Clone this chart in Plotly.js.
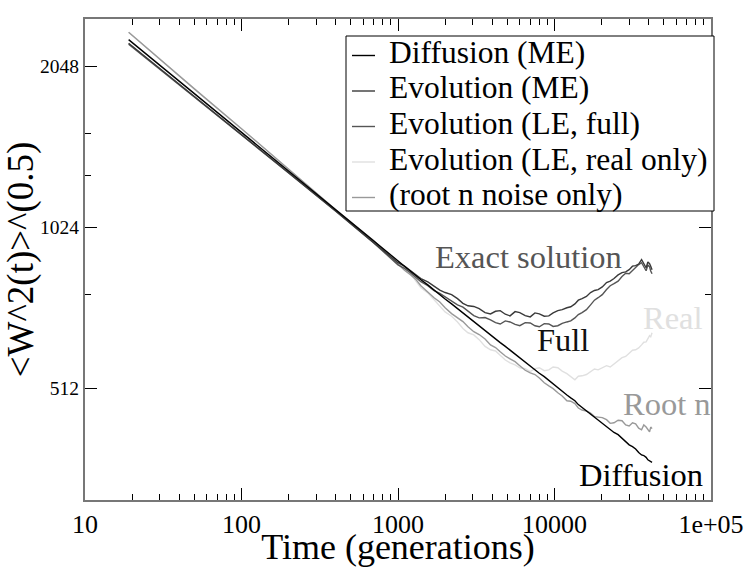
<!DOCTYPE html>
<html>
<head>
<meta charset="utf-8">
<script src="https://cdn.plot.ly/plotly-3.0.1.min.js"></script>
<style>html,body{margin:0;padding:0;background:#fff;}#chart{width:747px;height:567px;}</style>
</head>
<body>
<div id="chart"></div>
<script>
// Time (generations)
const t = [19, 30, 50, 100, 200, 400, 700,
  1000, 1100, 1200, 1300, 1400, 1550, 1700, 1850, 2000, 2200,
  2400, 2600, 2800, 3050, 3300, 3600, 3900, 4200, 4500, 4850,
  5200, 5600, 6000, 6500, 7000, 7500, 8000, 8600, 9200, 9800,
  10500, 11200, 12000, 12700, 13500, 14200, 15000, 16000, 17000, 18000,
  19000, 20200, 21500, 22700, 24000, 25500, 27000, 28500, 30000, 31500,
  33000, 34500, 36000, 37200, 38500, 39500, 40500, 41200, 42000];
// <W^2(t)>^(0.5) for each series
const diffusionME = [2298, 2058, 1819, 1539, 1302, 1101, 962,
  883, 864, 846, 831, 817, 799, 781, 766, 752, 736,
  721, 708, 696, 683, 670, 657, 645, 634, 623, 613,
  603, 593, 583, 573, 563, 555, 546, 538, 529, 521,
  512, 505, 497, 491, 485, 477, 471, 465, 458, 453,
  447, 440, 434, 429, 423, 419, 413, 406, 401, 398,
  394, 388, 384, 383, 380, 376, 374, 374, 372];
const evolutionME = [2263, 2031, 1799, 1526, 1297, 1099, 958,
  879, 866, 849, 832, 821, 809, 793, 781, 773, 766,
  753, 738, 730, 728, 721, 709, 705, 713, 715, 704,
  699, 712, 709, 700, 696, 708, 705, 698, 699, 708,
  715, 718, 724, 727, 736, 748, 753, 760, 773, 780,
  783, 792, 807, 812, 821, 834, 842, 845, 853, 866,
  868, 874, 891, 878, 860, 882, 875, 866, 853];
const evolutionLEfull = [2254, 2025, 1795, 1522, 1294, 1097, 957,
  871, 858, 842, 824, 810, 796, 779, 770, 759, 744,
  733, 726, 715, 700, 693, 694, 687, 679, 675, 684,
  681, 674, 670, 679, 678, 670, 667, 676, 675, 668,
  670, 677, 681, 684, 693, 703, 709, 718, 733, 748,
  756, 766, 783, 796, 803, 812, 828, 840, 838, 850,
  860, 872, 879, 866, 849, 870, 864, 848, 838];
const evolutionLEreal = [2373, 2111, 1859, 1566, 1313, 1104, 966,
  879, 862, 842, 812, 789, 772, 750, 728, 711, 698,
  681, 662, 650, 644, 631, 613, 604, 601, 591, 578,
  571, 566, 559, 557, 550, 557, 559, 552, 554, 561,
  559, 551, 545, 538, 531, 539, 540, 543, 550, 556,
  554, 558, 564, 561, 569, 578, 584, 587, 594, 603,
  604, 609, 617, 624, 625, 632, 642, 639, 650];
const rootNoise = [2373, 2111, 1859, 1566, 1313, 1104, 966,
  871, 851, 835, 818, 796, 773, 756, 742, 724, 706,
  693, 682, 667, 653, 645, 633, 617, 610, 599, 588,
  581, 574, 564, 553, 547, 543, 535, 524, 517, 511,
  502, 495, 485, 484, 479, 470, 466, 464, 460, 453,
  452, 451, 447, 440, 441, 446, 445, 437, 435, 441,
  439, 431, 428, 437, 433, 427, 424, 433, 430];

const seriesNames = ["Diffusion (ME)", "Evolution (ME)", "Evolution (LE, full)", "Evolution (LE, real only)", "(root n noise only)"];
const xTickVals = [10, 100, 1000, 10000, 100000];
const xTickText = ["10", "100", "1000", "10000", "1e+05"];
const xMinorVals = [20,30,40,50,60,70,80,90,200,300,400,500,600,700,800,900,2000,3000,4000,5000,6000,7000,8000,9000,20000,30000,40000,50000,60000,70000,80000,90000];
const yTickVals = [512, 1024, 2048];
const yTickText = ["512", "1024", "2048"];
const yMinorVals = [768, 1280, 1536];
const curveLabels = ["Exact solution", "Full", "Real", "Root n", "Diffusion"];

const FONT = "Liberation Serif, Times New Roman, serif";
const colors = ["#000000", "#3a3a3a", "#555555", "#e0e0e0", "#999999"];
const allSeries = [diffusionME, evolutionME, evolutionLEfull, evolutionLEreal, rootNoise];

// Draw order: light ones first, diffusion last (on top)
const order = [3, 4, 2, 1, 0];
const traces = order.map(i => ({
  x: t, y: allSeries[i], type: "scatter", mode: "lines", name: seriesNames[i],
  line: {color: colors[i], width: 1.4}, showlegend: false, hoverinfo: "skip"
}));

// pixel -> paper helpers (plot area 85..711 x 19..500)
const L = 85, R = 711, T = 19, B = 500;
const px = x => (x - L) / (R - L);
const py = y => (B - y) / (B - T);

const annotations = [];
const shapes = [];
// curve labels
const lab = [
  {i: 0, x: 528, y: 256.5, c: "#555555"},
  {i: 1, x: 562.5, y: 340, c: "#111111"},
  {i: 2, x: 673, y: 317.5, c: "#e0e0e0"},
  {i: 3, x: 666.7, y: 404, c: "#999999"},
  {i: 4, x: 641, y: 475, c: "#000000"}
];
lab.forEach(o => annotations.push({
  xref: "paper", yref: "paper", x: px(o.x), y: py(o.y), xanchor: "center", yanchor: "middle",
  text: curveLabels[o.i], showarrow: false, font: {family: FONT, size: 32.5, color: o.c}
}));
// legend box
shapes.push({type: "rect", xref: "paper", yref: "paper", x0: px(346), x1: px(714), y0: py(36), y1: py(211),
  line: {color: "#000", width: 1}, fillcolor: "#fff", layer: "above"});
const rowY = [52.5, 88, 123.5, 159, 194.5];
seriesNames.forEach((n, i) => {
  shapes.push({type: "line", xref: "paper", yref: "paper", x0: px(352), x1: px(375), y0: py(rowY[i] + 3), y1: py(rowY[i] + 3),
    line: {color: colors[i], width: 1.4}, layer: "above"});
  annotations.push({xref: "paper", yref: "paper", x: px(387), y: py(rowY[i]), xanchor: "left", yanchor: "middle",
    text: n, showarrow: false, font: {family: FONT, size: 31.5, color: "#000"}});
});

const axisCommon = {
  type: "log", showgrid: false, zeroline: false, showline: true, linecolor: "#777", linewidth: 2,
  mirror: "allticks", ticks: "inside", ticklen: 12, tickwidth: 1, tickcolor: "#000", tickmode: "array"
};

const layout = {
  width: 747, height: 567, paper_bgcolor: "#fff", plot_bgcolor: "#fff",
  margin: {l: L, r: 747 - R, t: T, b: 567 - B, pad: 0},
  font: {family: FONT, color: "#000"},
  xaxis: Object.assign({}, axisCommon, {
    range: [1, 5], tickvals: xTickVals, ticktext: xTickText,
    tickfont: {family: FONT, size: 26, color: "#000"},
    ticklabeloverflow: "allow",
    minor: {tickmode: "array", tickvals: xMinorVals, ticks: "inside", ticklen: 6, tickwidth: 1, tickcolor: "#000"},
    title: {text: "Time (generations)", font: {family: FONT, size: 36, color: "#000"}, standoff: 3}
  }),
  yaxis: Object.assign({}, axisCommon, {
    range: [2.5, 3.4], tickvals: yTickVals, ticktext: yTickText,
    tickfont: {family: FONT, size: 19.5, color: "#000"},
    minor: {tickmode: "array", tickvals: yMinorVals, ticks: "inside", ticklen: 6, tickwidth: 1, tickcolor: "#000"},
    title: {text: "&lt;W^2(t)&gt;^(0.5)", font: {family: FONT, size: 37, color: "#000"}, standoff: 4}
  }),
  annotations: annotations,
  shapes: shapes,
  showlegend: false
};

Plotly.newPlot("chart", traces, layout, {staticPlot: true, displayModeBar: false});
</script>
</body>
</html>
